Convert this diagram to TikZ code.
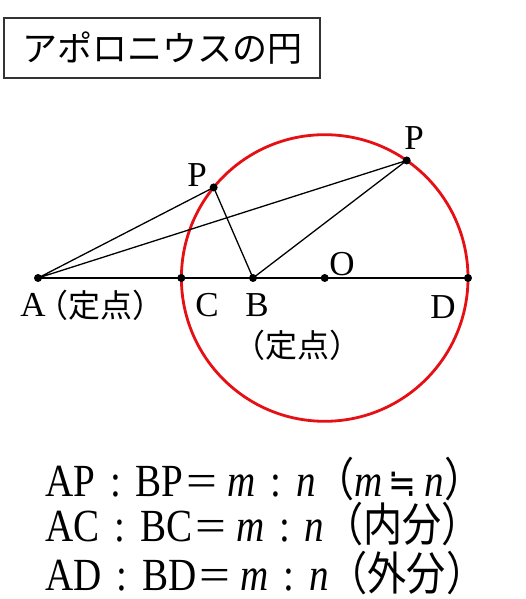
\documentclass[tikz,border=0pt]{standalone}
\usepackage{fontspec}
\setmainfont{Liberation Serif}
\newfontfamily\jp{Noto Sans CJK JP}
\newfontfamily\sym{DejaVu Sans}
\newcommand{\ratiocolon}{\kern0.38em:\kern0.38em}
\newcommand{\ratioeq}{\kern0.08em\scalebox{1.4}[1]{=}\kern0.25em}

\begin{document}
\begin{tikzpicture}[x=1pt,y=1pt,
    dot/.style={circle,fill=black,inner sep=0pt,minimum size=8pt},
    lbl/.style={inner sep=0pt,font=\fontsize{35}{35}\selectfont},
    jplbl/.style={inner sep=0pt,font=\fontsize{32}{32}\selectfont\jp},
    eqline/.style={anchor=base west,inner sep=0pt,font=\fontsize{46}{46}\selectfont}]
    \definecolor{CircleRed}{HTML}{E60F14}
    \useasboundingbox (0,0) rectangle (525,599);
    % title
    \node[draw=black!80,line width=1.2pt,minimum width=316pt,minimum height=60pt,
          font=\fontsize{35}{35}\selectfont\jp] (title) at (162,551) {アポロニウスの円};
    % points
    \coordinate (A) at (38,321);
    \coordinate (C) at (181.3,321);
    \coordinate (B) at (253,321);
    \coordinate (O) at (324.7,321);
    \coordinate (D) at (468,321);
    \coordinate (P1) at ([shift={(140.8:143.3pt)}]O);
    \coordinate (P2) at ([shift={(55.1:143.3pt)}]O);
    \draw[CircleRed,line width=2.8pt] (O) circle (143.3pt);
    \draw[line width=1.4pt] (A) -- (D);
    \draw[line width=1.3pt] (A) -- (P1) -- (B) -- (P2) -- (A);
    \foreach \p in {A,C,B,O,D,P1,P2}{%
        \node[dot] (dot\p) at (\p) {};
    }
    % labels
    \node[lbl] (labA) at (33,294) {A};
    \node[jplbl] (fixA) at (100,294) {（定点）};
    \node[lbl] (labC) at (207,294) {C};
    \node[lbl] (labB) at (257,294) {B};
    \node[jplbl] (fixB) at (297,254) {（定点）};
    \node[lbl] (labO) at (342,335) {O};
    \node[lbl] (labD) at (443,292) {D};
    \node[lbl] (labP1) at (197,424) {P};
    \node[lbl] (labP2) at (414,461) {P};
    % ratios
    \node[eqline] (eqP) at (45,102) {\scalebox{0.85}[1]{AP\ratiocolon BP\ratioeq\textit{m}\ratiocolon\textit{n}{\jp （}\textit{m}\kern0.15em{\sym\scalebox{0.85}{≒}}\kern0.2em\textit{n}{\jp ）}}};
    \node[eqline] (eqC) at (45,57) {\scalebox{0.85}[1]{AC\ratiocolon BC\ratioeq\textit{m}\ratiocolon\textit{n}{\jp （内分）}}};
    \node[eqline] (eqD) at (45,9) {\scalebox{0.85}[1]{AD\ratiocolon BD\ratioeq\textit{m}\ratiocolon\textit{n}{\jp （外分）}}};
\end{tikzpicture}
\end{document}
